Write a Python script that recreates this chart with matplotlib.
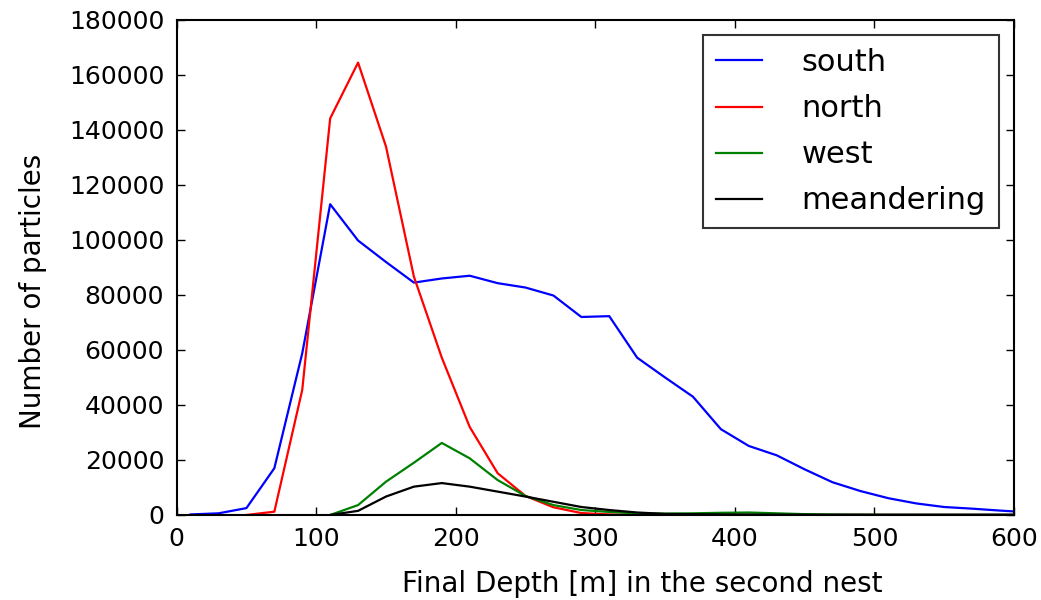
import matplotlib
matplotlib.use('Agg')
import matplotlib.pyplot as plt
import numpy as np

# depth bin centres (m)
depth = np.arange(10, 620, 20)

south = [200, 600, 2500, 17000, 58800, 113000, 99800, 92000, 84500, 86000,
         87000, 84300, 82700, 79800, 72000, 72300, 57200, 50000, 43000, 31200,
         25100, 21700, 16600, 11900, 8700, 6100, 4200, 2900, 2300, 1600, 1000]
north = [0, 1200, 45500, 144200, 164500, 134000, 86700, 57200, 32000, 15200,
         6900, 2800, 700, 200, 50, 0, 0, 0, 0, 0, 0, 0, 0, 0, 0, 0, 0, 0, 0]
west = [0, 3600, 12100, 19000, 26200, 20600, 12700, 6900, 3600, 1800,
        1100, 600, 500, 600, 800, 900, 600, 300, 150, 100, 50, 50, 50, 50, 50, 50]
meander = [0, 1500, 6700, 10300, 11600, 10300, 8500, 6700, 4800, 2900,
           1800, 900, 400, 300, 200, 150, 100, 100, 100, 100, 100, 100, 100, 100, 100, 100]

fig = plt.figure(figsize=(10.41, 6), dpi=100, facecolor='white')
ax = fig.add_axes([0.1697, 0.1417, 0.8043, 0.825])

ax.plot(depth, south, color='blue', lw=1.6, label='south')
ax.plot(depth[2:], north, color='red', lw=1.6, label='north')
ax.plot(depth[5:], west, color='green', lw=1.6, label='west')
ax.plot(depth[5:], meander, color='black', lw=1.6, label='meandering')

ax.set_xlim(0, 600)
ax.set_ylim(0, 180000)
ax.set_xticks(np.arange(0, 601, 100))
ax.set_yticks(np.arange(0, 180001, 20000))
ax.tick_params(direction='in', top=True, right=True, length=6, width=1,
               labelsize=18, pad=9)
for s in ax.spines.values():
    s.set_linewidth(1.5)

ax.set_xlabel('Final Depth [m] in the second nest', fontsize=20)
ax.set_ylabel('Number of particles', fontsize=20, labelpad=16)
ax.xaxis.set_label_coords(0.556, -0.111)
ax.yaxis.label.set_y(0.4525)

leg = ax.legend(loc='upper right', fontsize=22, fancybox=False, handlelength=1.49,
                handletextpad=1.31, labelspacing=0.56, borderpad=0.42,
                borderaxespad=0.5)
leg.get_frame().set_edgecolor('black')
leg.get_frame().set_linewidth(1.5)

fig.savefig('out.png', dpi=100, facecolor='white')
